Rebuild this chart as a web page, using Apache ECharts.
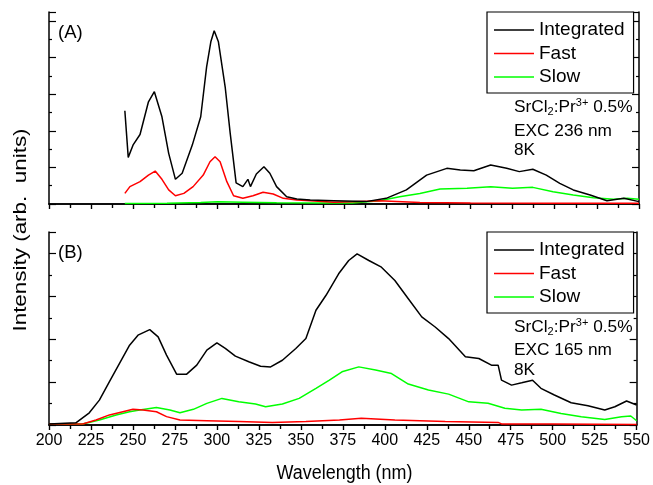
<!DOCTYPE html>
<html>
<head>
<meta charset="utf-8">
<script src="https://cdn.jsdelivr.net/npm/echarts@6/dist/echarts.min.js"></script>
<style>
  html, body { margin: 0; padding: 0; background: #fff; }
  #main { width: 653px; height: 485px; }
</style>
</head>
<body>
<div id="main"></div>
<script>
// panel A (EXC 236 nm)
var aIntX = [245, 247, 250, 254, 259, 262.5, 267, 271, 275, 279, 285, 290, 293.5, 296, 298, 300.5, 304.5, 307.5, 311, 315, 318, 319.5, 323, 327.5, 331, 335, 341, 347, 355, 369, 388, 400, 412, 424, 436, 444, 452, 462, 471.5, 479, 487, 495, 503, 511, 521, 531, 541, 550];
var aIntY = [5.1, 2.55, 3.25, 3.8, 5.59, 6.14, 4.77, 2.77, 1.35, 1.68, 3.22, 4.77, 7.5, 8.87, 9.47, 8.87, 6.41, 3.86, 1.16, 0.95, 1.35, 0.95, 1.64, 2.04, 1.68, 0.95, 0.4, 0.27, 0.22, 0.18, 0.13, 0.31, 0.77, 1.58, 1.95, 1.86, 1.82, 2.13, 1.95, 1.77, 1.9, 1.58, 1.13, 0.77, 0.49, 0.18, 0.31, 0.13];
var aFastX = [245, 248, 254, 259, 263, 267, 271, 275, 280, 285.5, 291.5, 295.5, 298.5, 301.5, 305.5, 309.5, 315, 321, 327, 333, 339, 347, 355, 369, 380, 396, 420, 450, 500, 550];
var aFastY = [0.58, 0.95, 1.22, 1.58, 1.8, 1.35, 0.77, 0.45, 0.58, 0.95, 1.58, 2.31, 2.58, 2.31, 1.22, 0.45, 0.31, 0.45, 0.64, 0.55, 0.31, 0.22, 0.18, 0.1, 0.12, 0.18, 0.08, 0.05, 0.04, 0.04];
var aSlowX = [245, 270, 290, 300, 315, 335, 360, 380, 396, 408, 420, 432, 448, 462, 475, 487, 499, 511, 523, 535, 543, 550];
var aSlowY = [0.03, 0.04, 0.08, 0.12, 0.1, 0.07, 0.05, 0.06, 0.18, 0.4, 0.58, 0.82, 0.86, 0.95, 0.86, 0.91, 0.67, 0.49, 0.34, 0.26, 0.31, 0.26];

// panel B (EXC 165 nm)
var bIntX = [200, 216, 224, 230, 236, 242, 248, 253, 260, 265, 270, 276, 282, 288, 294, 300, 305, 311, 319, 326, 332, 339, 347, 353, 359, 365, 372.5, 378.5, 383.5, 390.5, 398, 406, 414, 422, 430, 438, 448, 456, 463.5, 467.5, 469.5, 475.5, 481.5, 488, 493, 501, 511, 521, 531, 537, 544, 550];
var bIntY = [0.05, 0.1, 0.57, 1.16, 2.02, 2.87, 3.72, 4.19, 4.45, 4.11, 3.26, 2.37, 2.37, 2.79, 3.49, 3.83, 3.57, 3.21, 2.95, 2.74, 2.71, 3.02, 3.57, 4.03, 5.35, 6.05, 7.05, 7.67, 7.98, 7.67, 7.36, 6.74, 5.89, 5.04, 4.57, 4.03, 3.18, 3.1, 2.79, 2.79, 2.09, 1.86, 1.97, 2.09, 1.71, 1.4, 1.04, 0.9, 0.7, 0.85, 1.12, 0.93];
var bFastX = [200, 220, 228, 236, 244, 250, 256, 264, 270, 278, 294, 313, 333, 353, 373, 386, 406, 436, 467.5, 469.5, 500, 550];
var bFastY = [0.05, 0.05, 0.23, 0.47, 0.62, 0.73, 0.7, 0.62, 0.39, 0.23, 0.2, 0.16, 0.12, 0.16, 0.23, 0.31, 0.23, 0.16, 0.12, 0.05, 0.05, 0.02];
var bSlowX = [200, 220, 230, 240, 248, 254, 264, 272, 278, 286, 294, 303, 313, 323, 329, 339, 349, 359, 367, 374.5, 384.5, 394.5, 404, 414, 426, 438, 450, 461.5, 471.5, 481.5, 493, 505, 517, 531, 541, 546.5, 550];
var bSlowY = [0.05, 0.05, 0.23, 0.47, 0.62, 0.7, 0.82, 0.7, 0.57, 0.73, 1.01, 1.24, 1.08, 0.98, 0.85, 0.98, 1.24, 1.71, 2.09, 2.48, 2.71, 2.56, 2.4, 1.91, 1.63, 1.44, 1.08, 1.01, 0.78, 0.7, 0.73, 0.54, 0.39, 0.26, 0.39, 0.42, 0.2];

var seriesNames = ['Integrated', 'Fast', 'Slow'];
var seriesColors = { Integrated: '#000000', Fast: '#ff0000', Slow: '#00ff00' };
var FONT = 'Liberation Sans, Arial, sans-serif';

function zip(xs, ys) {
  return xs.map(function (x, i) { return [x, ys[i]]; });
}

function line(name, xs, ys, idx) {
  var c = seriesColors[name];
  return {
    type: 'line', name: name, data: zip(xs, ys),
    xAxisIndex: idx, yAxisIndex: idx,
    symbol: 'none',
    lineStyle: { color: c, width: 1.5 },
    itemStyle: { color: c },
    z: name === 'Integrated' ? 3 : 2
  };
}

var axisLineStyle = { lineStyle: { color: '#000', width: 1.5 } };
var tickLine = { color: '#000', width: 1.2 };

function xAx(grid, pos, inside, labels) {
  return {
    type: 'value', gridIndex: grid, position: pos,
    min: 200, max: 550, interval: 25,
    axisLine: axisLineStyle,
    axisTick: { show: true, inside: inside, length: 5, lineStyle: tickLine },
    minorTick: { show: true, splitNumber: 2, length: 4, lineStyle: tickLine },
    axisLabel: { show: labels, color: '#000', fontSize: 16, fontFamily: FONT, margin: 8 },
    splitLine: { show: false }
  };
}

function yAx(grid, pos, max) {
  return {
    type: 'value', gridIndex: grid, position: pos,
    min: 0, max: max, interval: 2,
    axisLine: axisLineStyle,
    axisTick: { show: true, inside: true, length: 7, lineStyle: tickLine },
    minorTick: { show: true, splitNumber: 2, length: 3, lineStyle: tickLine },
    axisLabel: { show: false },
    splitLine: { show: false }
  };
}

function legendAt(top) {
  return {
    orient: 'vertical', left: 487, top: top,
    data: seriesNames.map(function (n) {
      return { name: n, itemStyle: { color: seriesColors[n] } };
    }),
    icon: 'rect',
    itemWidth: 40, itemHeight: 1.5, itemGap: 3.5, itemTextGap: 9,
    padding: [8, 9, 6, 7],
    borderColor: '#000', borderWidth: 1.2, backgroundColor: '#fff',
    textStyle: { color: '#000', fontSize: 19, fontFamily: FONT, lineHeight: 20 },
    selectedMode: false
  };
}

var rich = {
  sub: { fontSize: 11, fontFamily: FONT, lineHeight: 11, padding: [10, 0, 0, 0] },
  sup: { fontSize: 11, fontFamily: FONT, lineHeight: 11, padding: [0, 0, 9, 0] }
};

function txt(x, y, s, size) {
  return {
    type: 'text', x: x, y: y, z: 100,
    style: { text: s, fill: '#000', fontSize: size || 17.3, fontFamily: FONT, verticalAlign: 'middle', rich: rich }
  };
}

var chart = echarts.init(document.getElementById('main'));
chart.setOption({
  backgroundColor: '#fff',
  animation: false,
  grid: [
    { left: 49, top: 12, width: 590, height: 192 },
    { left: 49, top: 232, width: 590, height: 193 }
  ],
  xAxis: [
    xAx(0, 'bottom', false, false),
    xAx(0, 'top', true, false),
    xAx(1, 'bottom', false, true),
    xAx(1, 'top', true, false)
  ],
  yAxis: [
    yAx(0, 'left', 10.5),
    yAx(0, 'right', 10.5),
    yAx(1, 'left', 9),
    yAx(1, 'right', 9)
  ],
  legend: [legendAt(12), legendAt(232)],
  series: [
    line('Slow', aSlowX, aSlowY, 0),
    line('Fast', aFastX, aFastY, 0),
    line('Integrated', aIntX, aIntY, 0),
    line('Slow', bSlowX, bSlowY, 2),
    line('Fast', bFastX, bFastY, 2),
    line('Integrated', bIntX, bIntY, 2)
  ],
  graphic: [
    txt(58, 33, '(A)', 18.5),
    txt(58, 253, '(B)', 18.5),
    txt(514, 107, 'SrCl{sub|2}:Pr{sup|3+} 0.5%'),
    txt(514, 131, 'EXC 236 nm'),
    txt(514, 150, '8K'),
    txt(514, 327, 'SrCl{sub|2}:Pr{sup|3+} 0.5%'),
    txt(514, 350, 'EXC 165 nm'),
    txt(514, 370, '8K'),
    {
      type: 'text', x: 21, y: 230, rotation: Math.PI / 2, scaleX: 1.18, z: 100,
      style: { text: 'Intensity (arb.  units)', fill: '#000', fontSize: 19, fontFamily: FONT, align: 'center', verticalAlign: 'middle' }
    },
    {
      type: 'text', x: 344.5, y: 474, scaleX: 0.92, z: 100,
      style: { text: 'Wavelength (nm)', fill: '#000', fontSize: 19.5, fontFamily: FONT, align: 'center', verticalAlign: 'middle' }
    }
  ]
});
</script>
</body>
</html>
